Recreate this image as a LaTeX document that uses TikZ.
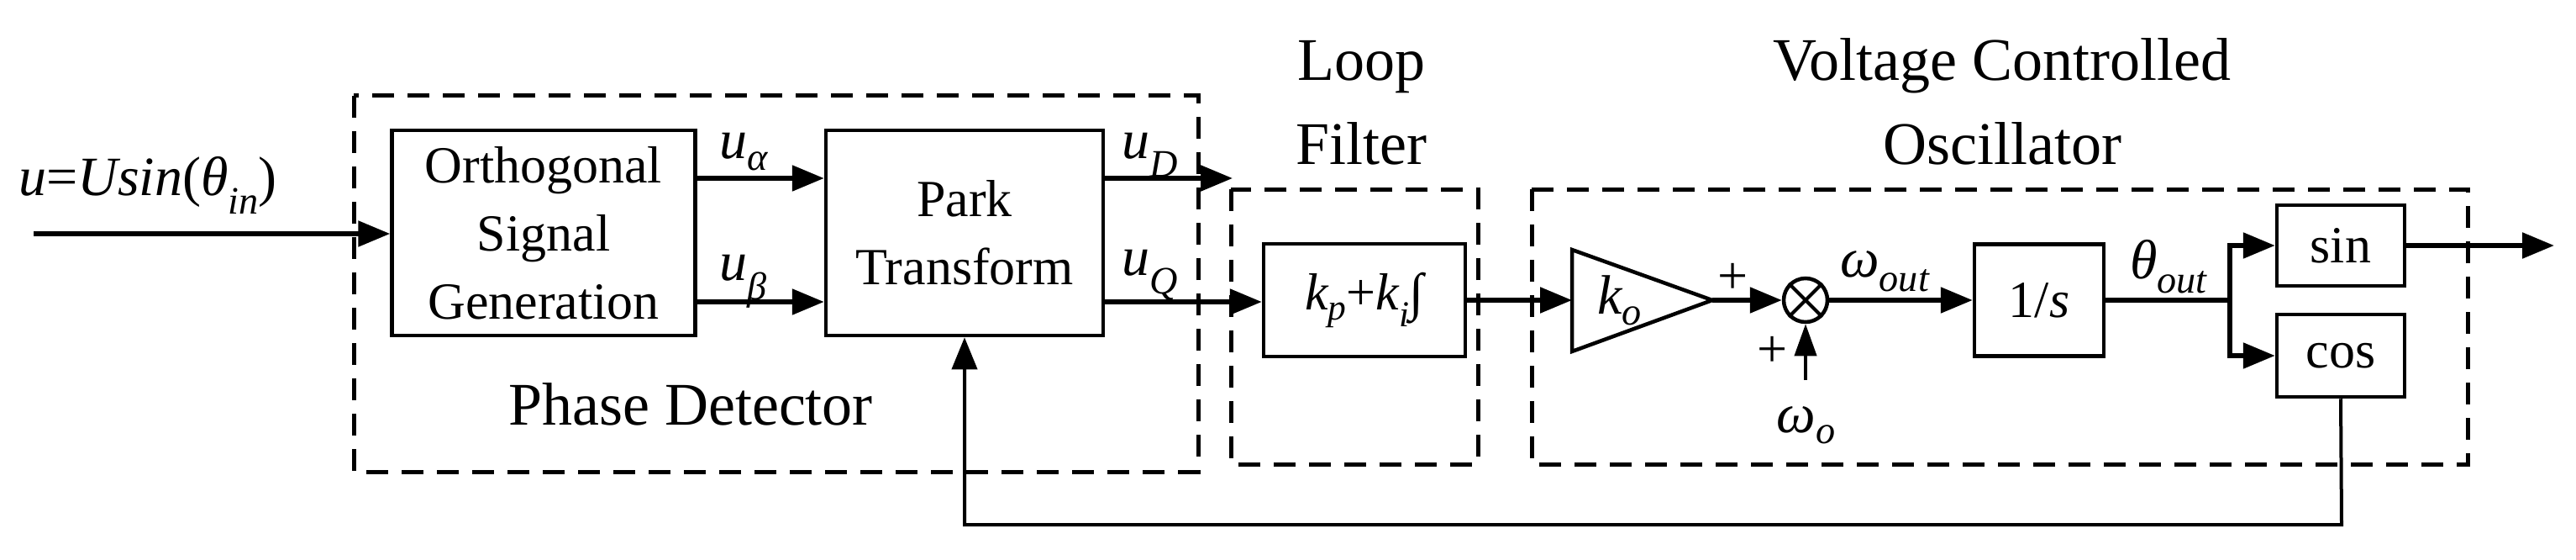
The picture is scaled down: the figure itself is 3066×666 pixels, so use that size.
\documentclass[tikz,border=0pt]{standalone}
\usepackage{fontspec}
\setmainfont{Liberation Serif}
\usetikzlibrary{arrows.meta}
\newcommand\ssub[1]{\textsubscript{#1}}
\begin{document}
\begin{tikzpicture}[x=1pt,y=-1pt,
  txt/.style={font=\fontsize{66}{82}\selectfont, inner sep=0pt},
  ttl/.style={font=\fontsize{72}{100}\selectfont, inner sep=0pt, align=center},
  blk/.style={draw, line width=4.5pt, inner sep=0pt, align=center, font=\fontsize{62}{81}\selectfont},
  dsh/.style={draw, line width=5pt, dash pattern=on 26pt off 16pt},
  sig/.style={line width=5.5pt, -{Triangle[length=38pt,width=30pt]}},
  ln/.style={line width=5.5pt}]
\useasboundingbox (0,0) rectangle (3066,666);
% dashed groups
\draw[dsh] (421,114) rectangle (1426,561);
\draw[dsh] (1465,225) rectangle (1759,552);
\draw[dsh] (1823,225) rectangle (2937,552);
% blocks
\node[blk, minimum width=361pt, minimum height=244pt] (osg) at (647,277) {Orthogonal\\Signal\\Generation};
\node[blk, minimum width=330pt, minimum height=244pt] (park) at (1148,277) {Park\\Transform};
\node[blk, minimum width=240pt, minimum height=134pt] (lf) at (1624,357) {\itshape k\ssub{p}\upshape+\itshape k\ssub{i}\upshape∫};
\draw[line width=4.5pt] (1871,297) -- (2038,357) -- (1871,418) -- cycle;
\coordinate (kin) at (1871,357);
\coordinate (kout) at (2038,357);
\node[txt] (ko) at (1928,357) {\itshape k\ssub{o}};
\node[draw, circle, line width=4.5pt, minimum size=52pt, inner sep=0pt] (sum) at (2149,357) {};
\draw[line width=4pt] (sum.45) -- (sum.225) (sum.135) -- (sum.315);
\node[blk, minimum width=154pt, minimum height=133pt] (int) at (2427,357) {1/\itshape s};
\node[blk, minimum width=152pt, minimum height=96pt] (sin) at (2786,292) {sin};
\node[blk, minimum width=152pt, minimum height=98pt] (cos) at (2786,423) {cos};
% coordinates
\coordinate (in) at (40,278);
\coordinate (ud) at (1467,212);
\coordinate (br) at (2654,357);
\coordinate (out) at (3040,292);
\coordinate (wo) at (2149,452);
\coordinate (fb1) at (2787,624);
\coordinate (fb2) at (1148,624);
% connectors
\draw[sig] (in) -- (osg.west|-in);
\draw[sig] (osg.east|-0,212) -- (park.west|-0,212);
\draw[sig] (osg.east|-0,359) -- (park.west|-0,359);
\draw[sig] (park.east|-ud) -- (ud);
\draw[sig] (park.east|-0,359) -- (lf.west|-0,359);
\draw[sig] (lf.east|-kin) -- (kin);
\draw[sig] (kout) -- (sum.west);
\draw[sig] (sum.east) -- (int.west);
\draw[ln] (int.east) -- (br);
\draw[sig] (br) |- (sin.west);
\draw[sig] (br) |- (cos.west);
\draw[sig] (sin.east) -- (out);
\draw[line width=4pt, -{Triangle[length=38pt,width=26pt]}] (wo) -- (sum.south);
\draw[line width=4pt, -{Triangle[length=38pt,width=30pt]}] (cos.south) -- (fb1) -- (fb2) -- (park.south);
% labels
\node[txt, anchor=base west] (lu) at (22,232) {\itshape u\upshape=\itshape Usin\upshape(\itshape θ\ssub{in}\upshape)};
\node[txt, anchor=base west] (la) at (856,189) {\itshape u\ssub{α}};
\node[txt, anchor=base west] (lb) at (856,333) {\itshape u\ssub{β}};
\node[txt, anchor=base west] (lD) at (1335,189) {\itshape u\ssub{D}};
\node[txt, anchor=base west] (lQ) at (1335,327) {\itshape u\ssub{Q}};
\node[txt, anchor=base west] (lwout) at (2190,329) {\itshape ω\ssub{out}};
\node[txt, anchor=base west] (lth) at (2535,331) {\itshape θ\ssub{out}};
\node[txt, anchor=base] (lwo) at (2150,514) {\itshape ω\ssub{o}};
\node[txt, font=\fontsize{64}{64}\selectfont] (p1) at (2063,331) {+};
\node[txt, font=\fontsize{64}{64}\selectfont] (p2) at (2110,418) {+};
\node[ttl, anchor=base] (pd) at (822,505) {Phase Detector};
\node[ttl, anchor=base] (lft) at (1620,195) {Loop\\Filter};
\node[ttl, anchor=base] (vco) at (2383,195) {Voltage Controlled\\Oscillator};
\end{tikzpicture}
\end{document}
